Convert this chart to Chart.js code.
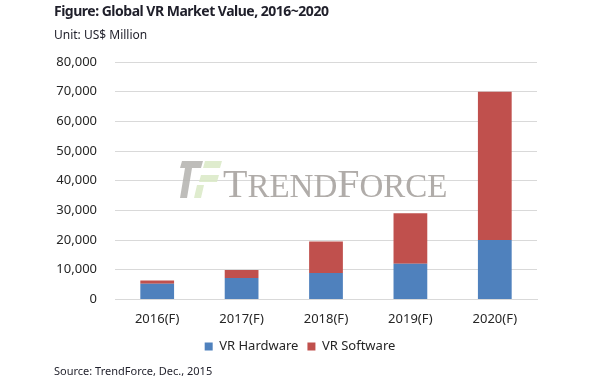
<!DOCTYPE html>
<html>
<head>
<meta charset="utf-8">
<script src="https://cdn.jsdelivr.net/npm/chart.js@4/dist/chart.umd.min.js"></script>
<style>
  html, body { margin: 0; padding: 0; background: #fff; }
  #wrap { position: relative; width: 600px; height: 383px; overflow: hidden; font-family: "Noto Sans", sans-serif; }
  #c { position: absolute; left: 0; top: 0; }
  .txt { position: absolute; left: 54px; white-space: nowrap; line-height: 1; }
  #title { top: 4px; font-size: 14px; font-weight: bold; letter-spacing: -0.5px; color: #1f1f2a; }
  #unit { top: 29px; font-size: 12px; color: #1f1f2a; }
  #source { top: 365px; font-size: 11px; color: #1f1f2a; }
</style>
</head>
<body>
<div id="wrap">
  <canvas id="c" width="600" height="383"></canvas>
  <div class="txt" id="title">Figure: Global VR Market Value, 2016~2020</div>
  <div class="txt" id="unit">Unit: US$ Million</div>
  <div class="txt" id="source">Source: TrendForce, Dec., 2015</div>
</div>
<script>
const categories = ['2016(F)', '2017(F)', '2018(F)', '2019(F)', '2020(F)'];
const hardwareValues = [5300, 7200, 8900, 12000, 20000];
const softwareValues = [1100, 2700, 10600, 17000, 50000];
const seriesNames = ['VR Hardware', 'VR Software'];
const yTickMin = 0;
const yTickMax = 80000;
const yTickStep = 10000;

const watermark = {
  id: 'watermark',
  beforeDatasetsDraw(chart) {
    const ctx = chart.ctx;
    const a = chart.chartArea;
    const ox = a.left + 65, oy = a.top + 99;
    ctx.save();
    ctx.globalAlpha = 0.85;
    // logo
    ctx.fillStyle = '#b3b1ae';
    ctx.beginPath();
    ctx.moveTo(ox + 2, oy); ctx.lineTo(ox + 23, oy); ctx.lineTo(ox + 21, oy + 7);
    ctx.lineTo(ox + 12, oy + 7); ctx.lineTo(ox + 7, oy + 37); ctx.lineTo(ox, oy + 37);
    ctx.lineTo(ox + 5, oy + 7); ctx.lineTo(ox, oy + 7); ctx.closePath(); ctx.fill();
    ctx.fillStyle = '#d9e9c6';
    ctx.beginPath();
    ctx.moveTo(ox + 25, oy); ctx.lineTo(ox + 42, oy); ctx.lineTo(ox + 40, oy + 7); ctx.lineTo(ox + 23, oy + 7); ctx.closePath(); ctx.fill();
    ctx.beginPath();
    ctx.moveTo(ox + 21, oy + 14); ctx.lineTo(ox + 39, oy + 14); ctx.lineTo(ox + 37, oy + 21); ctx.lineTo(ox + 19, oy + 21); ctx.closePath(); ctx.fill();
    ctx.beginPath();
    ctx.moveTo(ox + 17, oy + 24); ctx.lineTo(ox + 24, oy + 24); ctx.lineTo(ox + 21, oy + 37); ctx.lineTo(ox + 14, oy + 37); ctx.closePath(); ctx.fill();
    // text
    ctx.fillStyle = '#a29e9a';
    ctx.textBaseline = 'alphabetic';
    let x = ox + 43;
    const base = oy + 36;
    const parts = [['T', 40], ['REND', 33], ['F', 40], ['ORCE', 33]];
    for (const [s, sz] of parts) {
      ctx.font = sz + 'px "Liberation Serif", serif';
      ctx.fillText(s, x, base);
      x += ctx.measureText(s).width;
    }
    ctx.restore();
  }
};

new Chart(document.getElementById('c'), {
  type: 'bar',
  data: {
    labels: categories,
    datasets: [
      { label: seriesNames[0], data: hardwareValues, backgroundColor: '#4f81bd', categoryPercentage: 0.8, barPercentage: 0.5 },
      { label: seriesNames[1], data: softwareValues, backgroundColor: '#c0504d', categoryPercentage: 0.8, barPercentage: 0.5 }
    ]
  },
  options: {
    responsive: false,
    devicePixelRatio: 1,
    animation: false,
    layout: { padding: { top: 62, left: 0, right: 0, bottom: 20 } },
    plugins: {
      legend: {
        position: 'bottom',
        labels: { boxWidth: 8, boxHeight: 8, color: '#262626', font: { family: '"Noto Sans", sans-serif', size: 13 }, padding: 9 }
      },
      tooltip: { enabled: false },
      title: { display: false }
    },
    scales: {
      x: {
        stacked: true,
        grid: { display: false },
        border: { display: true, color: '#d9d9d9', width: 1 },
        ticks: { color: '#262626', font: { family: '"Noto Sans", sans-serif', size: 13 }, padding: 4 }
      },
      y: {
        stacked: true,
        min: yTickMin,
        max: yTickMax,
        afterFit(s) { s.width = 115; },
        grid: { color: '#d9d9d9', drawTicks: false },
        border: { display: false },
        ticks: {
          stepSize: yTickStep,
          padding: 18,
          color: '#262626',
          font: { family: '"Noto Sans", sans-serif', size: 13 },
          callback: v => v.toLocaleString('en-US')
        }
      },
      yR: {
        position: 'right',
        display: true,
        afterFit(s) { s.width = 63; },
        grid: { drawOnChartArea: false, drawTicks: false },
        border: { display: false },
        ticks: { display: false }
      }
    }
  },
  plugins: [watermark]
});
</script>
</body>
</html>
